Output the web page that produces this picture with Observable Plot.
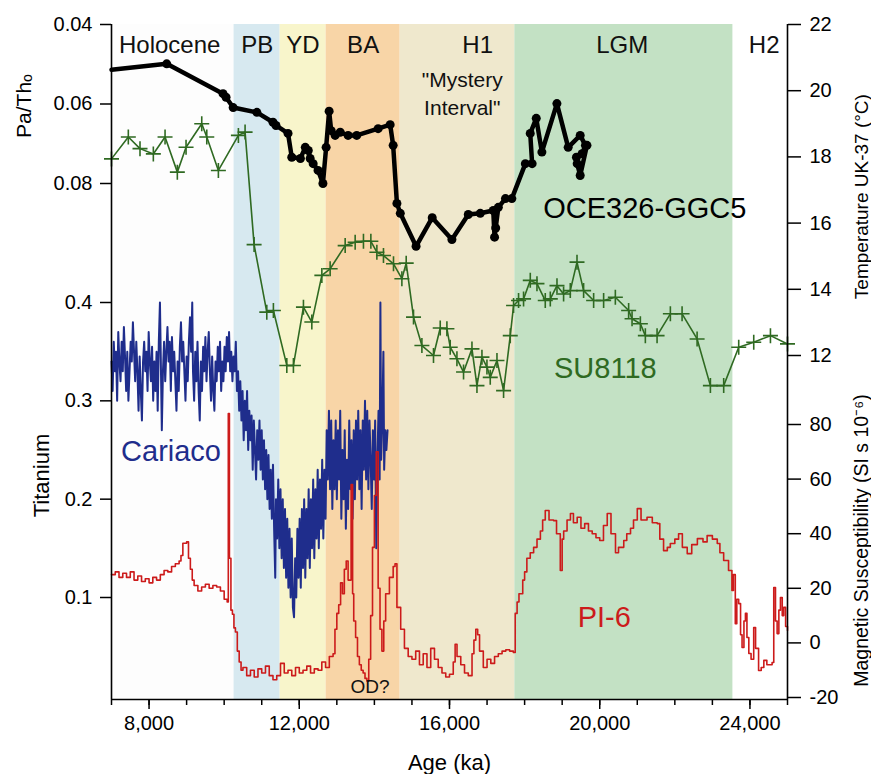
<!DOCTYPE html>
<html>
<head>
<meta charset="utf-8">
<script src="https://cdn.jsdelivr.net/npm/d3@7"></script>
<script src="https://cdn.jsdelivr.net/npm/@observablehq/plot@0.6"></script>
<style>
  html, body { margin: 0; padding: 0; background: #fff; }
  #chart { width: 871px; height: 774px; }
</style>
</head>
<body>
<div id="chart"></div>
<script>
// ---------- DATA ----------
const periodNames = ["Holocene", "PB", "YD", "BA", "H1", "LGM", "H2"];
const periodStart = [7000, 10264, 11490, 12715, 14687, 17740, 23552];
const periodEnd   = [10264, 11490, 12715, 14687, 17740, 23552, 25000];
const periodLabelAge = [8550, 10880, 12100, 13700, 16750, 20600, 24380];
const periodColors = ["#fdfdfd", "#d7e9f0", "#f8f5cb", "#f8d5a7", "#efe8cd", "#c3e1c4", "#ffffff"];

// OCE326-GGC5 Pa/Th (age, ratio)
const oce326 = [
  [7000,0.0514],[8470,0.0499],[9970,0.0574],[10050,0.0583],[10240,0.0609],[10870,0.0621],
  [11300,0.0646],[11380,0.0654],[11700,0.0674],[11800,0.0734],[12030,0.0737],[12160,0.0709],
  [12240,0.0717],[12290,0.0737],[12370,0.0750],[12500,0.0767],[12630,0.0800],[12715,0.0709],
  [12795,0.0618],[12850,0.0667],[12955,0.0679],[13090,0.0671],[13300,0.0679],[13530,0.0679],
  [14100,0.0662],[14420,0.0652],[14500,0.0704],[14600,0.0850],[14690,0.0875],[15110,0.0958],
  [15540,0.0886],[16065,0.0941],[16500,0.0878],[16820,0.0875],[17165,0.0868],[17200,0.0935],
  [17230,0.0912],[17300,0.0860],[17490,0.0838],[17660,0.0838],[18020,0.0750],[18200,0.0750],
  [18150,0.0674],[18310,0.0636],[18460,0.0721],[18860,0.0599],[19160,0.0709],[19480,0.0679],
  [19620,0.0704],[19530,0.0725],[19380,0.0734],[19400,0.0750],[19480,0.0780],[19660,0.0704]
];

// SU8118 UK-37 temperature (age, °C)
const su8118 = [
  [7000,17.94],[7448,18.60],[7759,18.25],[8114,18.09],[8426,18.60],[8753,17.54],[8985,18.29],
  [9403,19.00],[9537,18.60],[9846,17.59],[10379,18.65],[10557,18.75],[10797,15.35],[11135,13.31],
  [11311,13.36],[11668,11.70],[11844,11.70],[12111,13.46],[12334,13.01],[12601,14.42],[12822,14.62],
  [13222,15.32],[13488,15.42],[13709,15.45],[13906,15.45],[14066,15.12],[14242,15.02],[14509,14.77],
  [14732,14.32],[14847,14.79],[15042,13.16],[15265,12.30],[15574,12.00],[15753,12.83],[15931,12.81],
  [16019,12.25],[16198,11.90],[16374,11.50],[16598,12.20],[16731,11.09],[16864,11.95],[16997,11.65],
  [17085,11.34],[17264,11.85],[17440,10.94],[17618,12.60],[17706,13.51],[17839,13.66],[17972,13.71],
  [18151,14.27],[18329,14.17],[18550,13.66],[18684,13.71],[18862,14.11],[19038,13.86],[19216,13.96],
  [19395,14.82],[19571,13.96],[19838,13.66],[20104,13.66],[20416,13.76],[20770,13.36],[20861,13.11],
  [21082,12.96],[21215,12.60],[21527,12.60],[21881,13.26],[22193,13.26],[22593,12.50],[22947,11.09],
  [23301,11.09],[23701,12.25],[24101,12.40],[24546,12.60],[25000,12.35]
];

// Cariaco titanium (age, value)
const cariaco = [
  [7000,.34],[7030,.31],[7060,.36],[7090,.33],[7120,.35],[7150,.30],[7180,.37],[7210,.34],[7240,.32],
  [7270,.36],[7300,.33],[7330,.375],[7360,.345],[7390,.31],[7420,.35],[7450,.30],[7480,.33],[7510,.36],
  [7540,.34],[7570,.38],[7600,.35],[7630,.32],[7660,.36],[7690,.33],[7720,.29],[7750,.345],[7780,.31],
  [7810,.28],[7840,.34],[7870,.36],[7900,.33],[7930,.35],[7960,.31],[7990,.37],[8020,.34],[8050,.32],
  [8080,.355],[8110,.30],[8140,.34],[8170,.31],[8200,.35],[8230,.29],[8260,.36],[8290,.40],[8310,.35],
  [8340,.27],[8370,.33],[8400,.36],[8430,.32],[8460,.35],[8490,.375],[8520,.34],[8550,.36],[8580,.31],
  [8610,.365],[8640,.33],[8670,.35],[8700,.32],[8730,.29],[8760,.34],[8790,.31],[8820,.355],[8850,.38],
  [8880,.34],[8910,.36],[8940,.33],[8970,.30],[9000,.345],[9030,.32],[9060,.36],[9090,.385],[9120,.35],
  [9150,.40],[9170,.33],[9200,.30],[9230,.35],[9260,.32],[9290,.36],[9320,.31],[9350,.28],[9380,.34],
  [9410,.31],[9440,.355],[9470,.33],[9500,.365],[9530,.32],[9560,.35],[9590,.37],[9620,.33],[9650,.30],
  [9680,.345],[9710,.31],[9740,.29],[9770,.34],[9800,.32],[9830,.355],[9860,.33],[9890,.36],[9920,.31],
  [9950,.34],[9980,.32],[10010,.355],[10040,.33],[10070,.365],[10100,.34],[10130,.37],[10160,.33],
  [10190,.35],[10220,.32],[10250,.345],[10280,.33],[10310,.36],[10340,.31],
  [10370,.33],[10400,.29],[10430,.32],[10460,.28],[10490,.31],[10520,.26],[10550,.30],[10580,.27],
  [10610,.31],[10640,.25],[10670,.29],[10700,.26],[10730,.285],[10760,.23],[10790,.28],[10820,.25],
  [10850,.22],[10880,.27],[10910,.24],[10940,.28],[10970,.23],[11000,.27],[11030,.22],[11060,.26],
  [11090,.21],[11120,.25],[11150,.20],[11180,.245],[11210,.19],[11240,.23],[11270,.18],[11300,.235],
  [11330,.17],[11360,.12],[11380,.20],[11410,.16],[11440,.22],[11470,.15],[11500,.21],
  [11530,.14],[11560,.20],[11590,.13],[11620,.19],[11650,.12],[11680,.18],[11710,.11],[11740,.17],
  [11770,.10],[11800,.16],[11830,.09],[11860,.08],[11890,.14],[11920,.10],[11950,.17],[11980,.12],
  [12010,.18],[12040,.11],[12070,.19],[12100,.13],[12130,.20],[12160,.12],[12190,.19],[12220,.14],
  [12250,.21],[12280,.13],[12310,.20],[12340,.15],[12370,.22],[12400,.14],[12430,.21],[12460,.16],
  [12490,.23],[12520,.15],[12550,.22],[12580,.17],[12610,.24],[12640,.16],[12670,.23],[12700,.18],
  [12730,.27],[12760,.22],[12790,.29],[12820,.21],[12850,.28],[12880,.19],[12910,.26],[12940,.21],
  [12970,.28],[13000,.20],[13030,.27],[13060,.22],[13090,.29],[13120,.18],[13150,.25],[13180,.20],
  [13210,.27],[13240,.17],[13270,.24],[13300,.19],[13330,.28],[13360,.21],[13390,.26],[13420,.18],
  [13450,.27],[13480,.20],[13510,.28],[13540,.22],[13570,.29],[13600,.21],[13630,.27],[13660,.19],
  [13690,.28],[13720,.23],[13750,.30],[13780,.22],[13810,.29],[13840,.21],[13870,.28],[13900,.24],
  [13930,.19],[13960,.27],[13990,.22],[14020,.28],[14050,.15],[14080,.24],[14110,.29],[14140,.22],
  [14160,.40],[14180,.24],[14210,.28],[14240,.35],[14260,.23],[14290,.27],[14320,.25],[14350,.27]
];

// PI-6 magnetic susceptibility (age, SI 10^-6)
const pi6 = [
  [7000,25],[7100,26],[7200,24],[7300,25.5],[7400,24],[7500,26],[7600,23],[7700,24.5],[7800,22.5],
  [7900,23.5],[8000,22],[8100,24],[8200,23],[8300,25],[8400,26.5],[8500,26],[8600,28],[8700,29],
  [8800,30],[8850,32],[8900,36.5],[9000,37],[9050,31],[9100,27],[9150,23],[9200,21],[9300,19],
  [9400,20.5],[9500,21.5],[9600,20],[9700,21],[9800,20.5],[9900,19],[10000,16],[10080,15],[10110,84],
  [10140,31],[10180,12],[10220,10.5],[10260,5.5],[10300,4],[10350,-3],[10400,-7],[10450,-10],
  [10500,-9],[10600,-12],[10700,-10],[10800,-12.5],[10900,-9.5],[11000,-11],[11100,-8.5],[11200,-12],
  [11300,-13.5],[11400,-12],[11500,-7.5],[11600,-11],[11700,-10],[11800,-12],[11900,-9],[12000,-11],
  [12100,-10],[12200,-8.5],[12300,-11],[12400,-9.5],[12500,-10],[12600,-7],[12700,-9],[12800,-5],
  [12900,-4],[12950,5],[13000,10.8],[13050,14],[13100,22],[13150,18],[13200,27],[13250,30],[13300,23],
  [13380,58],[13420,18],[13450,8],[13500,2],[13550,-5],[13600,-8],[13650,-10],[13700,-11],[13750,-13],
  [13800,-14],[13850,-6],[13900,10],[13950,35],[14000,54],[14050,70],[14100,20],[14150,5],[14200,-3],
  [14250,8],[14300,18],[14400,24],[14500,28],[14550,29],[14600,13],[14700,5],[14800,-2],[14900,-5],
  [15000,-6],[15100,-3],[15200,-8],[15300,-4],[15400,-9],[15500,-2],[15600,-6],[15700,-9],[15800,-11],
  [15900,-12.5],[16000,-11.5],[16100,-7],[16150,-0.5],[16200,-5],[16300,-8],[16400,-11],[16500,-12],
  [16600,-4],[16650,1],[16700,5],[16750,3],[16800,-3],[16900,-9],[17000,-6],[17100,-7.5],[17200,-5],
  [17300,-4],[17400,-3],[17500,-2.5],[17600,-3],[17700,-3.5],[17750,10.8],[17800,15],[17850,18],
  [17950,23],[18000,26],[18060,31],[18150,33],[18240,35],[18330,38],[18420,41],[18480,45],[18550,48.5],
  [18650,45],[18770,44.8],[18850,40],[18950,26.5],[19000,38],[19040,41],[19130,45],[19220,47.4],
  [19300,44],[19400,46],[19500,42],[19600,43.7],[19700,41],[19800,40],[19900,38.5],[20000,37.5],
  [20100,43],[20200,47.4],[20300,40],[20420,33],[20500,35],[20640,37.5],[20720,40],[20820,42],
  [20900,45],[21000,49.2],[21100,45],[21260,46],[21400,44],[21530,43.7],[21600,38],[21700,33.8],
  [21800,35],[21880,36.4],[22000,38],[22100,40],[22200,35],[22330,32.7],[22450,36],[22600,38.2],
  [22750,37],[22860,39.3],[23000,38],[23130,36.4],[23200,33],[23300,30.2],[23430,26.5],[23520,19.2],
  [23560,25],[23610,7],[23650,16],[23700,14.4],[23750,3],[23790,-1.7],[23840,8],[23880,10.8],
  [23920,2],[23970,-3.9],[24030,-6],[24100,5.6],[24150,-2],[24230,-10.1],[24300,-9],[24370,-6.4],
  [24450,-8],[24590,-7.2],[24634,20.3],[24680,8],[24724,3.4],[24770,12],[24812,16.6],[24860,10],
  [24900,13],[24950,6],[25000,4.5]
];

// axis ticks
const xMajorTicks = [8000, 12000, 16000, 20000, 24000];
const xMinorTicks = d3.range(7000, 25001, 1000);
const paThTicks = [0.04, 0.06, 0.08];
const tiTicks = [0.1, 0.2, 0.3, 0.4];
const tempTicks = [12, 14, 16, 18, 20, 22];
const magTicks = [-20, 0, 20, 40, 60, 80];

// ---------- TRACK SCALES (each series onto the shared vertical track) ----------
const paTh = d3.scaleLinear([0.04, 0.08], [675, 516]);
const ti   = d3.scaleLinear([0.1, 0.4], [102, 397]);
const temp = d3.scaleLinear([12, 22], [344, 675]);
const mag  = d3.scaleLinear([-20, 80], [2, 275]);

const periods = periodNames.map((name, i) => ({
  name, start: periodStart[i], end: periodEnd[i], labelAge: periodLabelAge[i], color: periodColors[i]
}));

const green = "#2f6a22", blue = "#1f2d8c", red = "#cc1b1b";

const plusSymbol = {
  draw(ctx, size) {
    const r = Math.sqrt(size / Math.PI);
    ctx.moveTo(-r, 0); ctx.lineTo(r, 0);
    ctx.moveTo(0, -r); ctx.lineTo(0, r);
  }
};

const seriesLabels = [
  {text: "OCE326-GGC5", x: 21200, y: paTh(0.0863), color: "#000"},
  {text: "SU8118", x: 20150, y: temp(11.6), color: green},
  {text: "Cariaco", x: 8585, y: ti(0.2485), color: blue},
  {text: "PI-6", x: 20120, y: mag(9.3), color: red}
];

const axisFont = 20;

const chart = Plot.plot({
  width: 871,
  height: 774,
  marginTop: 24,
  marginBottom: 75,
  marginLeft: 111,
  marginRight: 84,
  x: {domain: [7000, 25000]},
  y: {domain: [0, 675]},
  style: {fontFamily: "'Liberation Sans', Arial, sans-serif", fontSize: "20px", background: "#fff", color: "#000"},
  marks: [
    Plot.rect(periods, {x1: "start", x2: "end", fill: "color"}),
    Plot.text(periods, {x: "labelAge", text: "name", frameAnchor: "top", lineAnchor: "middle", dy: 21, fontSize: 24, fill: "#111"}),
    Plot.text(["\"Mystery\nInterval\""], {x: 16340, frameAnchor: "top", lineAnchor: "middle", dy: 68, fontSize: 21, lineHeight: 1.33, fill: "#111"}),

    Plot.line(cariaco, {x: d => d[0], y: d => ti(d[1]), stroke: blue, strokeWidth: 2}),
    Plot.line(pi6, {x: d => d[0], y: d => mag(d[1]), stroke: red, strokeWidth: 1.6, curve: "step-after"}),

    Plot.line(su8118, {x: d => d[0], y: d => temp(d[1]), stroke: green, strokeWidth: 1.6}),
    Plot.dot(su8118, {x: d => d[0], y: d => temp(d[1]), symbol: plusSymbol, r: 7.5, fill: "none", stroke: green, strokeWidth: 1.6}),

    Plot.line(oce326, {x: d => d[0], y: d => paTh(d[1]), stroke: "#000", strokeWidth: 4.5, strokeLinejoin: "round"}),
    Plot.dot(oce326.slice(1), {x: d => d[0], y: d => paTh(d[1]), r: 4.5, fill: "#000"}),

    Plot.text(seriesLabels, {x: "x", y: "y", text: "text", fill: "color", fontSize: 29}),
    Plot.text(["OD?"], {x: 13884, y: mag(-16), fontSize: 19, fill: "#111"}),

    // axes
    Plot.ruleX([7000, 25000], {strokeWidth: 1.6}),
    Plot.ruleY([0], {strokeWidth: 1.6}),
    Plot.axisX(xMinorTicks, {tickSize: 6, strokeWidth: 1.5, tickFormat: () => "", label: null}),
    Plot.axisX(xMajorTicks, {tickSize: 10, strokeWidth: 1.5, tickPadding: 6, tickFormat: d3.format(","), fontSize: axisFont, label: null}),
    Plot.axisY(paThTicks, {y: paTh, anchor: "left", tickSize: 11, tickPadding: 8, strokeWidth: 1.5, tickFormat: d => d.toFixed(2), fontSize: axisFont, label: null}),
    Plot.axisY(tiTicks, {y: ti, anchor: "left", tickSize: 11, tickPadding: 8, strokeWidth: 1.5, tickFormat: d => d.toFixed(1), fontSize: axisFont, label: null}),
    Plot.axisY(tempTicks, {y: temp, anchor: "right", tickSize: 13, tickPadding: 9, strokeWidth: 1.5, tickFormat: d => String(d), fontSize: axisFont, label: null}),
    Plot.axisY(magTicks, {y: mag, anchor: "right", tickSize: 13, tickPadding: 9, strokeWidth: 1.5, tickFormat: d => String(d), fontSize: axisFont, label: null}),

    // axis titles
    Plot.text(["Age (ka)"], {frameAnchor: "bottom", lineAnchor: "middle", dy: 63, fontSize: 22}),
    Plot.text(["Pa/Thₒ"], {frameAnchor: "left", textAnchor: "middle", y: paTh(0.0605), dx: -87, rotate: -90, fontSize: 21}),
    Plot.text(["Titanium"], {frameAnchor: "left", textAnchor: "middle", y: ti(0.224), dx: -70, rotate: -90, fontSize: 22}),
    Plot.text(["Temperature UK-37 (°C)"], {frameAnchor: "right", textAnchor: "middle", y: temp(16.8), dx: 74, rotate: -90, fontSize: 19}),
    Plot.text(["Magnetic Susceptibility (SI s 10⁻⁶)"], {frameAnchor: "right", textAnchor: "middle", y: mag(37.5), dx: 74, rotate: -90, fontSize: 19.5})
  ]
});

document.getElementById("chart").appendChild(chart);
</script>
</body>
</html>
